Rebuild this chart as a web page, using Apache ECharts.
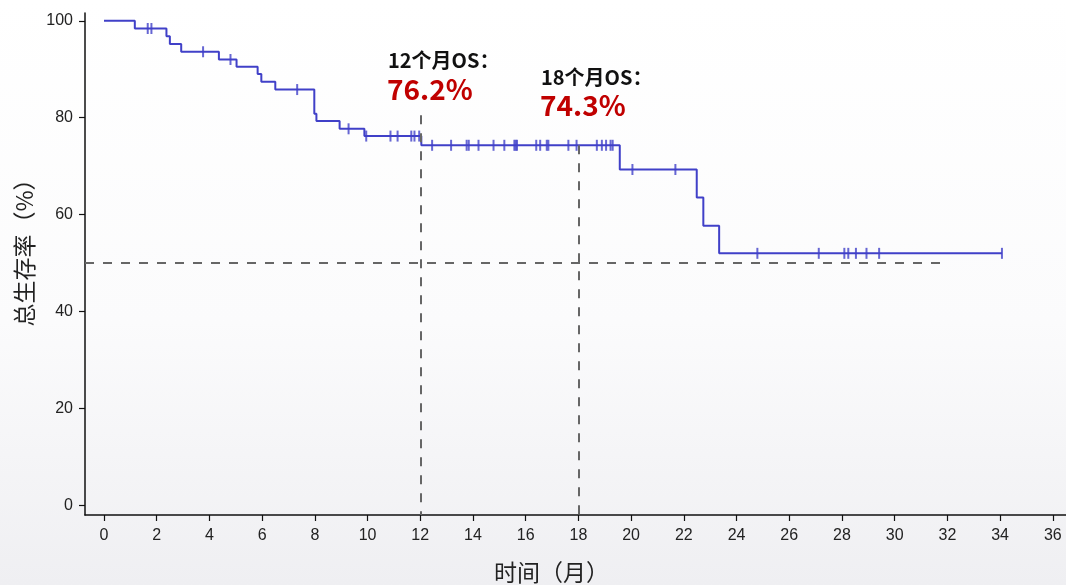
<!DOCTYPE html>
<html>
<head>
<meta charset="utf-8">
<script src="https://cdn.jsdelivr.net/npm/echarts@6/dist/echarts.min.js"></script>
<style>
html,body{margin:0;padding:0;}
#chart{width:1066px;height:585px;}
</style>
</head>
<body>
<div id="chart"></div>
<script>
// Kaplan-Meier step data (time in months, survival %)
const eventTimes = [0, 1.17, 2.37, 2.5, 2.93, 4.36, 5.03, 5.83, 5.97, 6.5, 7.98, 8.06, 8.94, 9.88, 12.04, 19.57, 22.49, 22.74, 23.34, 34.07];
const survival   = [100, 98.4, 96.8, 95.2, 93.6, 92.0, 90.5, 89.0, 87.4, 85.8, 80.8, 79.3, 77.7, 76.2, 74.3, 69.3, 63.5, 57.7, 52.0, 52.0];
// censored observations (time in months)
const censorTimes = [1.66, 1.80, 3.76, 4.8, 7.33, 9.28, 9.95, 10.87, 11.14, 11.66, 11.78, 11.96,
  12.45, 13.17, 13.76, 13.84, 14.21, 14.78, 15.19, 15.57, 15.62, 15.67, 16.4, 16.55, 16.8, 16.86,
  17.62, 17.93, 18.7, 18.89, 19.05, 19.22, 19.3, 20.05, 21.68, 24.79, 27.12, 28.09, 28.24, 28.53,
  28.93, 29.41, 34.07];
const xTicks = [0, 2, 4, 6, 8, 10, 12, 14, 16, 18, 20, 22, 24, 26, 28, 30, 32, 34, 36];
const yTicks = [0, 20, 40, 60, 80, 100];
const landmarkTimes = [12, 18];
const landmarkLabels = ['12个月OS：', '18个月OS：'];
const landmarkValues = ['76.2%', '74.3%'];
const medianLevel = 50;
const medianLineEnd = 31.8;

function survAt(t) {
  let s = survival[0];
  for (let i = 0; i < eventTimes.length; i++) {
    if (eventTimes[i] <= t) s = survival[i];
  }
  return s;
}

const curveData = eventTimes.map((t, i) => [t, survival[i]]);
const censorData = censorTimes.map(t => [t, survAt(t)]);

const chart = echarts.init(document.getElementById('chart'));
const axisFont = '"Liberation Sans", Arial, sans-serif';
const cjkFont = '"Noto Sans CJK SC", "Noto Sans", sans-serif';
const xMin = -0.72, xMax = 36.5, yMin = -2, yMax = 101.6;

const dashStyle = { color: '#666666', width: 2, type: [9, 9] };

chart.setOption({
  animation: false,
  backgroundColor: {
    type: 'linear', x: 0, y: 0, x2: 0, y2: 1,
    colorStops: [
      { offset: 0, color: '#ffffff' },
      { offset: 0.55, color: '#fbfbfc' },
      { offset: 1, color: '#efeff2' }
    ]
  },
  grid: { left: 85, right: 0, top: 13, bottom: 70, containLabel: false, outerBoundsMode: 'none' },
  xAxis: {
    type: 'value', min: xMin, max: xMax,
    name: '时间（月）', nameLocation: 'middle', nameGap: 46,
    nameTextStyle: { fontFamily: cjkFont, fontSize: 23, color: '#222', padding: [0, 48, 0, 0] },
    axisLine: { show: true, onZero: false, lineStyle: { color: '#111', width: 1.5 } },
    axisTick: { show: true, customValues: xTicks, length: 6, lineStyle: { color: '#111', width: 1.2 } },
    axisLabel: { customValues: xTicks, fontFamily: axisFont, fontSize: 16, color: '#222', margin: 13 },
    splitLine: { show: false }
  },
  yAxis: {
    type: 'value', min: yMin, max: yMax,
    name: '总生存率（%）', nameLocation: 'middle', nameGap: 42, nameRotate: 90,
    nameTextStyle: { fontFamily: cjkFont, fontSize: 23, color: '#222', padding: [0, 0, 0, 34] },
    axisLine: { show: true, onZero: false, lineStyle: { color: '#111', width: 1.5 } },
    axisTick: { show: true, customValues: yTicks, length: 6, lineStyle: { color: '#111', width: 1.2 } },
    axisLabel: { customValues: yTicks, fontFamily: axisFont, fontSize: 16, color: '#222', margin: 12 },
    splitLine: { show: false }
  },
  graphic: [
    { type: 'text', x: 388, y: 60, style: { text: landmarkLabels[0], font: 'bold 20px ' + cjkFont, fill: '#111', verticalAlign: 'middle' } },
    { type: 'text', x: 387, y: 89, style: { text: landmarkValues[0], font: 'bold 28px ' + cjkFont, fill: '#c00000', verticalAlign: 'middle' } },
    { type: 'text', x: 541, y: 77, style: { text: landmarkLabels[1], font: 'bold 20px ' + cjkFont, fill: '#111', verticalAlign: 'middle' } },
    { type: 'text', x: 540, y: 105, style: { text: landmarkValues[1], font: 'bold 28px ' + cjkFont, fill: '#c00000', verticalAlign: 'middle' } }
  ],
  series: [
    {
      type: 'line', data: [], silent: true,
      markLine: {
        silent: true, symbol: 'none', label: { show: false },
        lineStyle: dashStyle,
        data: [
          [{ coord: [xMin, medianLevel] }, { coord: [medianLineEnd, medianLevel] }],
          [{ coord: [landmarkTimes[0], 80.5] }, { coord: [landmarkTimes[0], yMin] }],
          [{ coord: [landmarkTimes[1], survAt(landmarkTimes[1])] }, { coord: [landmarkTimes[1], yMin] }]
        ]
      }
    },
    {
      type: 'line', data: curveData, step: 'end', symbol: 'none',
      lineStyle: { color: '#4040c8', width: 2 }, z: 3
    },
    {
      type: 'scatter', data: censorData, symbol: 'rect', symbolSize: [2, 11],
      itemStyle: { color: '#4040c8' }, z: 4
    }
  ]
});
</script>
</body>
</html>
